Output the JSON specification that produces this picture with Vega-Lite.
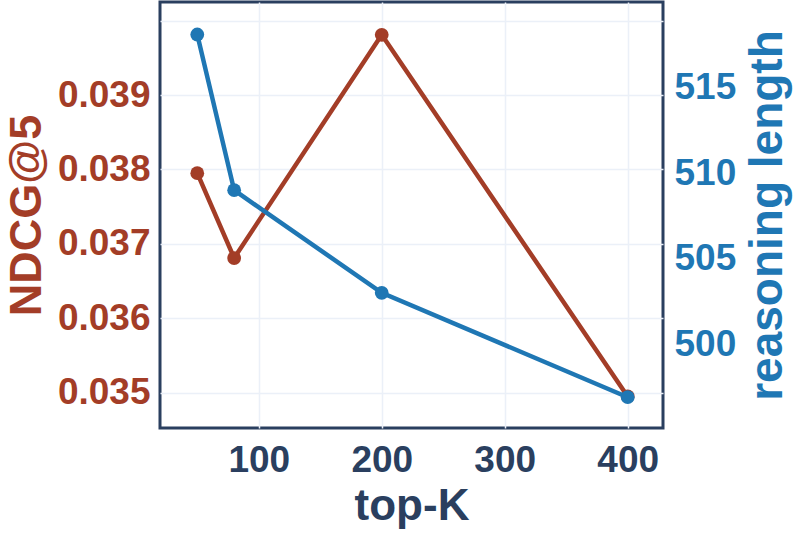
{
  "$schema": "https://vega.github.io/schema/vega-lite/v6.json",
  "width": 503,
  "height": 426,
  "autosize": {"type": "none"},
  "padding": {"left": 160, "top": 2, "right": 130, "bottom": 112},
  "background": "white",
  "config": {
    "font": "Liberation Sans",
    "view": {"stroke": "#2a3f5f", "strokeWidth": 3},
    "axis": {
      "labelFont": "Liberation Sans",
      "titleFont": "Liberation Sans",
      "labelFontWeight": "bold",
      "titleFontWeight": "bold",
      "labelFontSize": 37,
      "titleFontSize": 45,
      "domain": false,
      "ticks": false,
      "gridColor": "#ebf0f8",
      "gridWidth": 1.5,
      "gridOpacity": 1
    }
  },
  "data": {
    "values": [
      {"k": 50, "ndcg": 0.03795, "len": 518.1},
      {"k": 80, "ndcg": 0.03681, "len": 509.0},
      {"k": 200, "ndcg": 0.03981, "len": 503.0},
      {"k": 400, "ndcg": 0.03495, "len": 496.9}
    ]
  },
  "encoding": {
    "x": {
      "field": "k",
      "type": "quantitative",
      "scale": {"domain": [19.7, 428.7], "nice": false, "zero": false},
      "axis": {
        "title": "top-K",
        "values": [100, 200, 300, 400],
        "labelColor": "#2a3f5f",
        "titleColor": "#2a3f5f",
        "labelPadding": 14,
        "titlePadding": 6,
        "titleFontSize": 44
      }
    }
  },
  "layer": [
    {
      "encoding": {
        "y": {
          "field": "ndcg",
          "type": "quantitative",
          "scale": {"domain": [0.034526, 0.040251], "nice": false, "zero": false},
          "axis": {
            "orient": "left",
            "title": "NDCG@5",
            "values": [0.035, 0.036, 0.037, 0.038, 0.039, 0.04],
            "labelExpr": "datum.value > 0.0395 ? '' : format(datum.value, '.3f')",
            "labelColor": "#a33d27",
            "titleColor": "#a33d27",
            "labelPadding": 10,
            "titlePadding": 8
          }
        }
      },
      "layer": [
        {"mark": {"type": "line", "color": "#a33d27", "strokeWidth": 4.5}},
        {"mark": {"type": "point", "filled": true, "color": "#a33d27", "opacity": 1, "size": 190}}
      ]
    },
    {
      "encoding": {
        "y": {
          "field": "len",
          "type": "quantitative",
          "scale": {"domain": [495.1, 520.0], "nice": false, "zero": false},
          "axis": {
            "orient": "right",
            "title": "reasoning length",
            "titleAngle": -90,
            "titleBaseline": "top",
            "values": [500, 505, 510, 515],
            "labelColor": "#1f77b4",
            "titleColor": "#1f77b4",
            "labelPadding": 11,
            "titlePadding": 10,
            "titleFontSize": 46
          }
        }
      },
      "layer": [
        {"mark": {"type": "line", "color": "#1f77b4", "strokeWidth": 4.5}},
        {"mark": {"type": "point", "filled": true, "color": "#1f77b4", "opacity": 1, "size": 190}}
      ]
    }
  ],
  "resolve": {"scale": {"y": "independent"}}
}
